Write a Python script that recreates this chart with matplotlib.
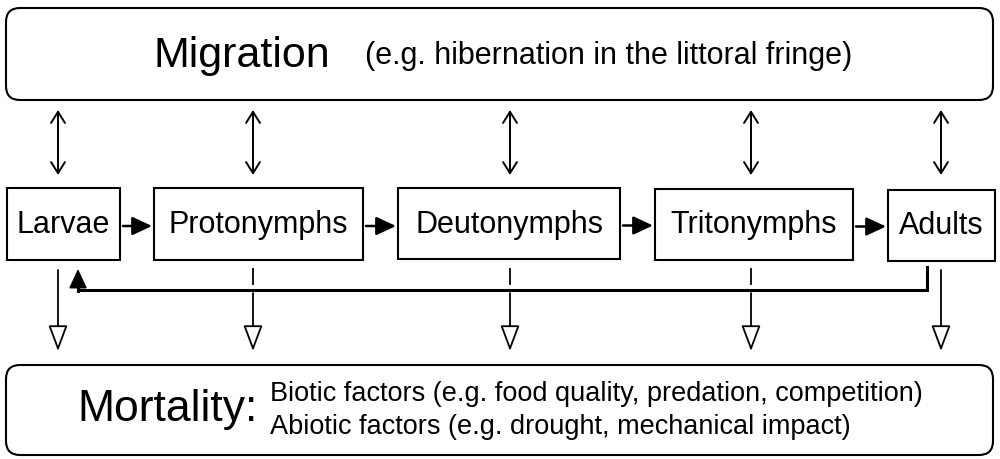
import matplotlib
matplotlib.use("Agg")
import matplotlib.pyplot as plt
from matplotlib.patches import FancyBboxPatch, Rectangle

plt.rcParams['font.family'] = ['Liberation Sans', 'DejaVu Sans']

# diagram content
stages = ['Larvae', 'Protonymphs', 'Deutonymphs', 'Tritonymphs', 'Adults']
migration_title = 'Migration'
migration_note = '(e.g. hibernation in the littoral fringe)'
mortality_title = 'Mortality:'
mortality_lines = ['Biotic factors (e.g. food quality, predation, competition)',
                   'Abiotic factors (e.g. drought, mechanical impact)']

# layout in pixel units (left, right, top, bottom) of each stage box
stage_boxes = [(7, 120, 188, 260), (154, 363, 188, 260), (398, 620, 188, 259),
               (655, 853, 189, 260), (888, 995, 190, 261)]
link_x = [58, 253, 510, 751, 941]

fig = plt.figure(figsize=(10, 4.59), dpi=100)
ax = fig.add_axes([0, 0, 1, 1])
ax.set_xlim(0, 1000)
ax.set_ylim(459, 0)
ax.axis('off')

lw = 1.5

# top and bottom rounded boxes
for top, bottom in [(8, 100), (365, 455)]:
    ax.add_patch(FancyBboxPatch((6, top), 987, bottom - top,
                                boxstyle='round,pad=0,rounding_size=14',
                                fc='white', ec='black', lw=lw))

ax.text(242, 56, migration_title, fontsize=31, ha='center', va='center')
ax.text(609, 56, migration_note, fontsize=22, ha='center', va='center')

ax.text(168, 410, mortality_title, fontsize=32, ha='center', va='center')
for i, line in enumerate(mortality_lines):
    ax.text(270, 394 + i * 33, line, fontsize=19.5, ha='left', va='center')

# stage boxes
for name, (l, r, t, b) in zip(stages, stage_boxes):
    ax.add_patch(Rectangle((l, t), r - l, b - t, fc='white', ec='black', lw=lw))
    ax.text((l + r) / 2, (t + b) / 2 + 1, name, fontsize=22, ha='center', va='center')

# horizontal development arrows
for (l1, r1, t1, b1), (l2, r2, t2, b2) in zip(stage_boxes[:-1], stage_boxes[1:]):
    y = (t1 + b1) / 2 + 2
    ax.annotate('', xy=(l2 - 2, y), xytext=(r1 + 3, y),
                arrowprops=dict(arrowstyle='-|>,head_length=0.6,head_width=0.28',
                                lw=1.8, color='black', shrinkA=0, shrinkB=0,
                                mutation_scale=20))

# migration double arrows
for x in link_x:
    ax.annotate('', xy=(x, 110), xytext=(x, 175),
                arrowprops=dict(arrowstyle='<->,head_length=0.4,head_width=0.25',
                                lw=1.4, color='black', shrinkA=0, shrinkB=0,
                                mutation_scale=20))

# feedback from adults to larvae
fb_y = 290
ax.plot([927, 927, 78], [267, fb_y, fb_y], color='black', lw=2.2,
        solid_joinstyle='miter')
ax.plot([78, 78], [fb_y + 1, 278], color='black', lw=2.2)
ax.annotate('', xy=(78, 269), xytext=(78, 282),
            arrowprops=dict(arrowstyle='-|>,head_length=0.6,head_width=0.28',
                            lw=1.2, color='black', shrinkA=0, shrinkB=0,
                            mutation_scale=20))

# mortality arrows
head = dict(arrowstyle='-|>,head_length=0.8,head_width=0.3', lw=1.3,
            ec='black', fc='white', shrinkA=0, shrinkB=0, mutation_scale=20)
for i, x in enumerate(link_x):
    crosses = 0 < i < len(link_x) - 1
    if crosses:
        ax.plot([x, x], [269, 284], color='black', lw=1.3)
        start = fb_y + 3
    else:
        start = 270
    ax.annotate('', xy=(x, 351), xytext=(x, start), arrowprops=head)

fig.savefig('out.png', dpi=100, facecolor='white')
